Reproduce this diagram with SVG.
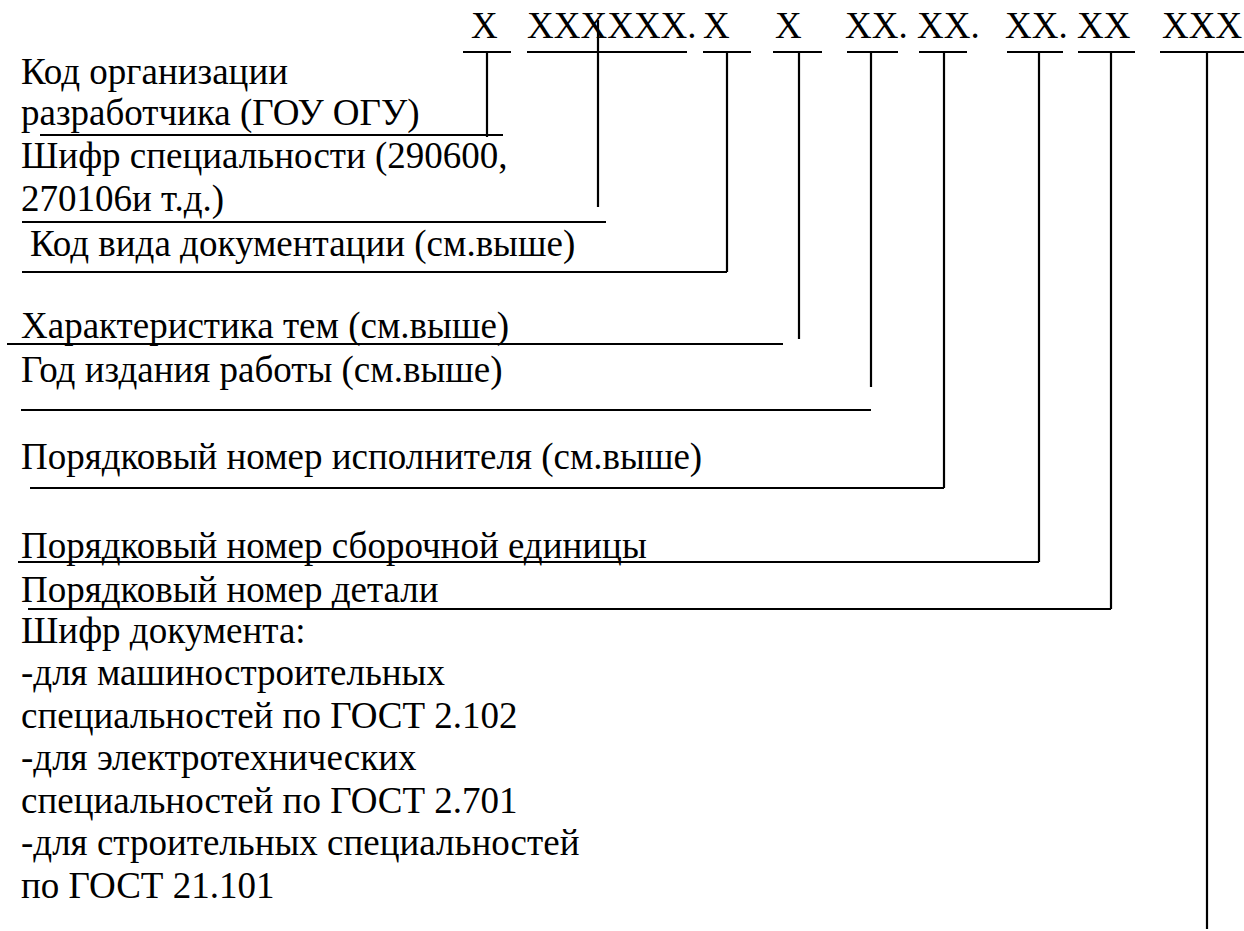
<svg xmlns="http://www.w3.org/2000/svg" width="1244" height="931" viewBox="0 0 1244 931">
<style>
text{font-size:37px;fill:#000}
.ln{stroke:#000;stroke-width:2.2;fill:none}
</style>
<rect width="1244" height="931" fill="#fff"/>
<g font-family="Liberation Serif, Times New Roman, DejaVu Serif, serif">
<g id="code">
<text x="471" y="38">X</text>
<text x="527" y="38">XXXXXX.</text>
<text x="703" y="38">X</text>
<text x="775" y="38">X</text>
<text x="845" y="38">XX.</text>
<text x="917" y="38">XX.</text>
<text x="1005" y="38">XX.</text>
<text x="1077" y="38">XX</text>
<text x="1162" y="38">XXX</text>
</g>
<g id="n-org"><text x="21" y="84">Код организации</text><text x="21" y="125">разработчика (ГОУ ОГУ)</text></g>
<g id="n-spec"><text x="21" y="168">Шифр специальности (290600,</text><text x="21" y="211">270106и т.д.)</text></g>
<g id="n-vid"><text x="30" y="256">Код вида документации (см.выше)</text></g>
<g id="n-har"><text x="21" y="338">Характеристика тем (см.выше)</text></g>
<g id="n-god"><text x="21" y="382">Год издания работы (см.выше)</text></g>
<g id="n-isp"><text x="21" y="469">Порядковый номер исполнителя (см.выше)</text></g>
<g id="n-sb"><text x="21" y="558">Порядковый номер сборочной единицы</text></g>
<g id="n-det"><text x="21" y="602">Порядковый номер детали</text></g>
<g id="n-doc">
<text x="21" y="643">Шифр документа:</text>
<text x="21" y="685">-для машиностроительных</text>
<text x="21" y="728">специальностей по ГОСТ 2.102</text>
<text x="21" y="770">-для электротехнических</text>
<text x="21" y="813">специальностей по ГОСТ 2.701</text>
<text x="21" y="855">-для строительных специальностей</text>
<text x="21" y="898">по ГОСТ 21.101</text>
</g>
</g>
<g id="connectors" class="ln">
<path d="M463 52H511M527 52H687M703 52H751M773 52H822M847 52H898M919 52H967M1007 52H1063M1078 52H1135M1160 52H1244"/>
<path d="M487 52V137M40 135H503"/>
<path d="M598 20V207M22 222H606"/>
<path d="M727 52V272M22 272H727"/>
<path d="M799 52V339M7 344H783"/>
<path d="M871 52V387M21 410H871"/>
<path d="M944 52V488M30 488H944"/>
<path d="M1039 52V562M18 562H1039"/>
<path d="M1111 52V609M28 609H1111"/>
<path d="M1207 52V929"/>
</g>
</svg>
